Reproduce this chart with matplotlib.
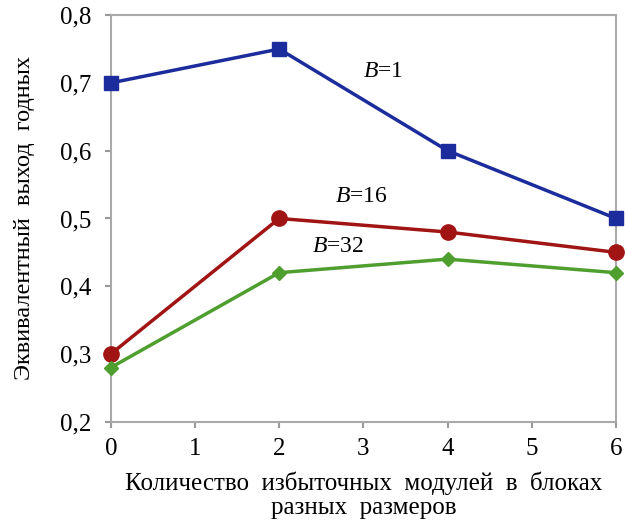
import matplotlib
matplotlib.use("Agg")
import matplotlib.pyplot as plt

plt.rcParams['font.family'] = ['Liberation Serif', 'DejaVu Serif']
plt.rcParams['mathtext.fontset'] = 'custom'
plt.rcParams['mathtext.rm'] = 'Liberation Serif'
plt.rcParams['mathtext.it'] = 'Liberation Serif:italic'

x = [0, 2, 4, 6]
b1 = [0.70, 0.75, 0.60, 0.50]
b16 = [0.30, 0.50, 0.48, 0.45]
b32 = [0.28, 0.42, 0.44, 0.42]

fig = plt.figure(figsize=(6.26, 5.22), dpi=100)
ax = fig.add_axes([0.177, 0.192, 0.807, 0.779])

ax.plot(x, b1, color='#1c2c9c', lw=2.5, marker='s', ms=10.5, clip_on=False, zorder=3)
ax.plot(x, b16, color='#a01414', lw=2.5, marker='o', ms=11, clip_on=False, zorder=3)
ax.plot(x, b32, color='#4f9f2f', lw=2.5, marker='D', ms=7, clip_on=False, zorder=3)

ax.text(3.0, 0.717, r'$B$=1', fontsize=17, va='center')
ax.text(2.66, 0.532, r'$B$=16', fontsize=17, va='center')
ax.text(2.39, 0.459, r'$B$=32', fontsize=17, va='center')

ax.set_xlim(0, 6)
ax.set_ylim(0.2, 0.8)
ax.set_xticks(range(7))
ax.set_yticks([0.2, 0.3, 0.4, 0.5, 0.6, 0.7, 0.8])
ax.set_yticklabels(['0,2', '0,3', '0,4', '0,5', '0,6', '0,7', '0,8'])
ax.tick_params(labelsize=18, color='#999999', length=4, width=1.5)
ax.tick_params(axis='x', pad=8)
ax.tick_params(axis='y', pad=10)

for s in ax.spines.values():
    s.set_color('#aaaaaa')
    s.set_linewidth(1.5)

ax.set_xlabel('Количество  избыточных  модулей  в  блоках\nразных  размеров', fontsize=18, linespacing=1.1, labelpad=8)
ax.set_ylabel('Эквивалентный  выход  годных', fontsize=17.5, labelpad=18)

fig.savefig('out.png', dpi=100)
